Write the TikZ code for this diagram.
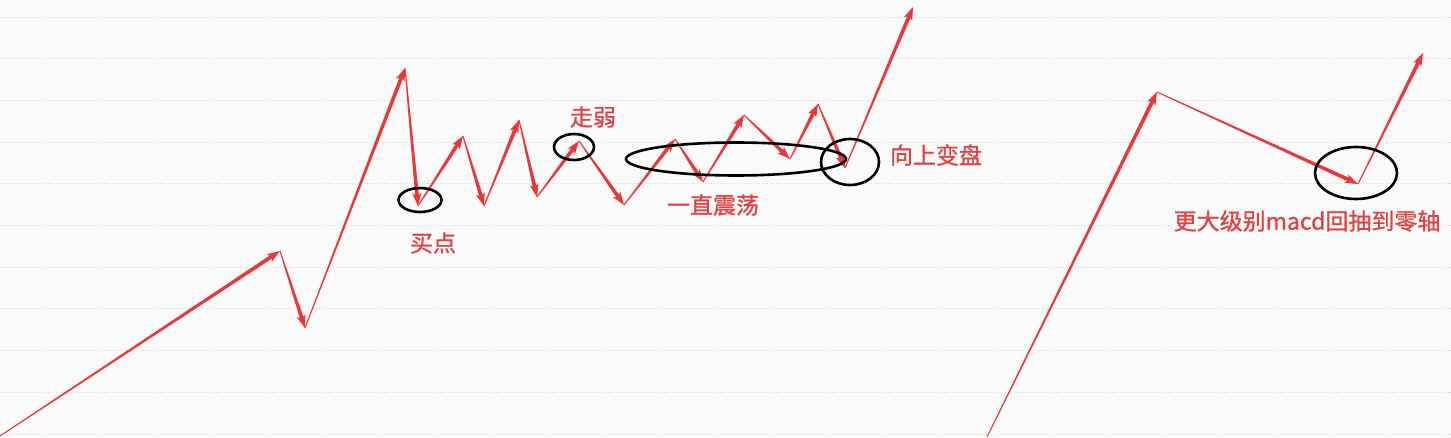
\documentclass[tikz,border=0pt]{standalone}
\usepackage{fontspec}
\newfontfamily\cjk[FakeBold=0.9]{Noto Sans CJK SC}
\usetikzlibrary{calc,shapes.geometric}
\definecolor{trend}{RGB}{232,56,56}
\definecolor{note}{RGB}{222,66,66}
\definecolor{grid}{RGB}{215,215,215}
% tapered arrow from #1 to #2
\newcommand\taper[2]{%
  \fill[trend] ($(#1)!0.5pt!90:(#2)$) -- ($(#2)!11pt!(#1)!1.9pt!-90:(#1)$)
    -- ($(#2)!13pt!(#1)!4.6pt!-90:(#1)$) -- (#2)
    -- ($(#2)!13pt!(#1)!4.6pt!90:(#1)$) -- ($(#2)!11pt!(#1)!1.9pt!90:(#1)$)
    -- ($(#1)!0.5pt!-90:(#2)$) -- cycle;}

\begin{document}
\begin{tikzpicture}[x=1pt,y=-1pt,
    ring/.style={draw,ellipse,line width=2.6pt,inner sep=0pt},
    lbl/.style={text=note,font=\cjk\fontsize{23}{26}\selectfont,inner sep=0pt}]
      \fill[white!98!black] (0,0) rectangle (1451,438);
      \useasboundingbox (0,0) rectangle (1451,438);
      % grid lines
      \foreach \k in {0,...,10}
        \draw[grid,dotted,line width=0.8pt] (0,17+41.7*\k) -- (1451,17+41.7*\k);
      % left trend
      \coordinate (a0) at (0,436);
      \coordinate (a1) at (280,251);
      \coordinate (a2) at (305,328);
      \coordinate (a3) at (405,68);
      \coordinate (a4) at (418,206);
      \coordinate (a5) at (463,136);
      \coordinate (a6) at (484,206);
      \coordinate (a7) at (519,120);
      \coordinate (a8) at (537,197);
      \coordinate (a9) at (579,141);
      \coordinate (a10) at (624,205);
      \coordinate (a11) at (675,139);
      \coordinate (a12) at (703,182);
      \coordinate (a13) at (744,115);
      \coordinate (a14) at (790,159);
      \coordinate (a15) at (818,104);
      \coordinate (a16) at (845,168);
      \coordinate (a17) at (913,7);
      \foreach \i [evaluate=\i as \j using int(\i+1)] in {0,...,16}
        \taper{a\i}{a\j};
      % right trend
      \coordinate (b0) at (987,437);
      \coordinate (b1) at (1157,92);
      \coordinate (b2) at (1358,184);
      \coordinate (b3) at (1423,53);
      \taper{b0}{b1}
      \taper{b1}{b2}
      \taper{b2}{b3}
      % marks
      \node[ring,minimum width=43pt,minimum height=24pt](buy) at (420,200){};
      \node[ring,minimum width=40pt,minimum height=26pt](weak) at (574,147){};
      \node[ring,minimum width=220pt,minimum height=33pt](range) at (736,159){};
      \node[ring,minimum width=58pt,minimum height=46pt](turn) at (850,162){};
      \node[ring,minimum width=82pt,minimum height=52pt](zero) at (1356,173){};
      \node[lbl](buylbl) at (433,243){买点};
      \node[lbl](weaklbl) at (593,117){走弱};
      \node[lbl](rangelbl) at (713,205){一直震荡};
      \node[lbl](turnlbl) at (936,155){向上变盘};
      \node[lbl](zerolbl) at (1307,221){更大级别macd回抽到零轴};
    \end{tikzpicture}
\end{document}
